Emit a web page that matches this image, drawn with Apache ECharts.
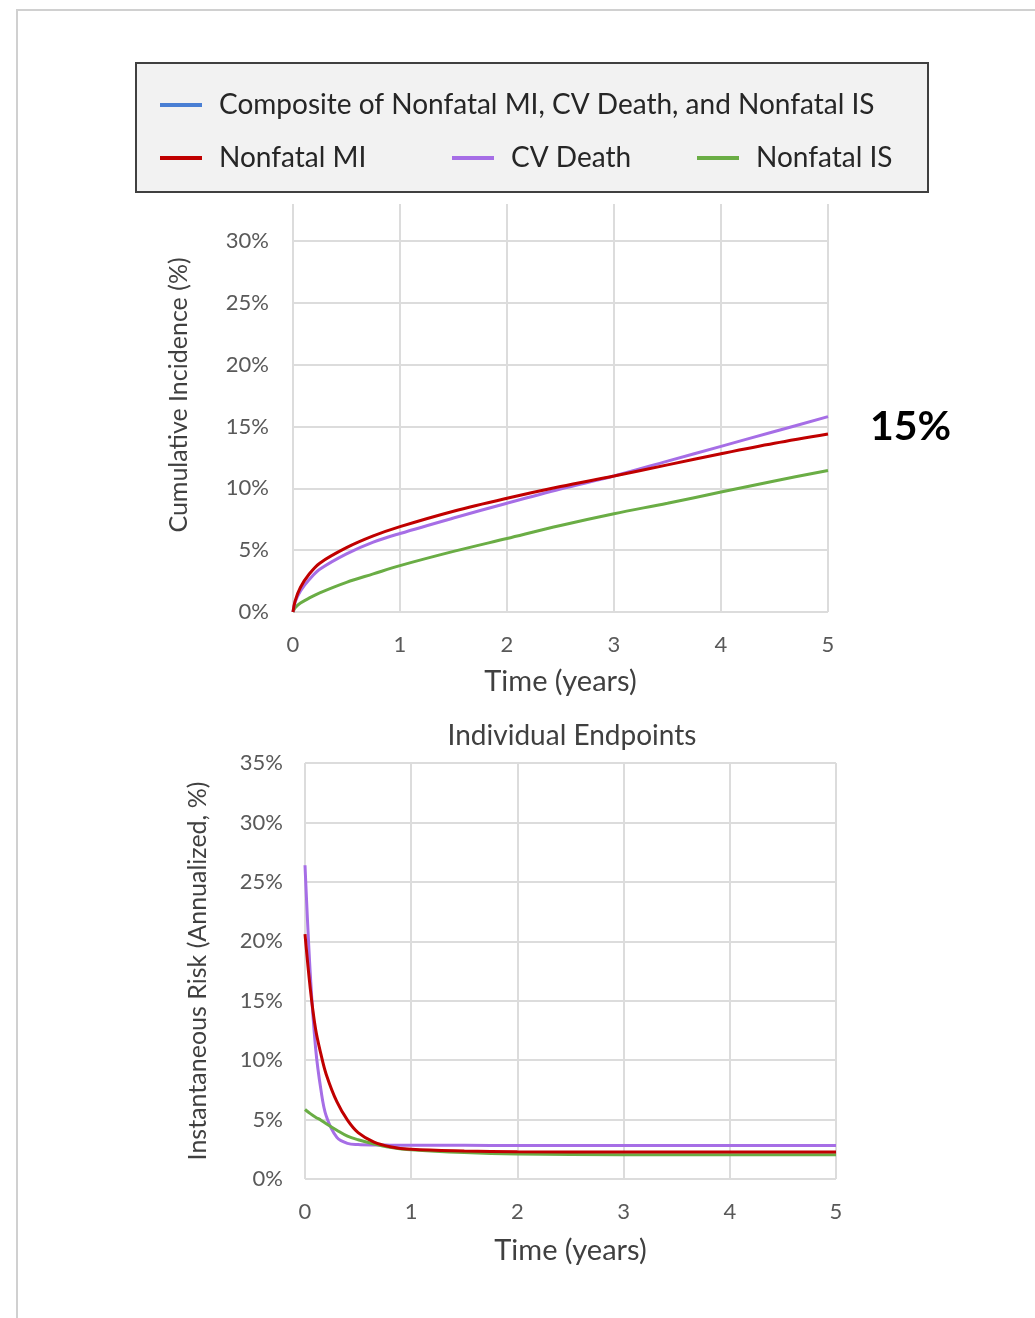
<!DOCTYPE html>
<html>
<head>
<meta charset="utf-8">
<script src="https://cdn.jsdelivr.net/npm/echarts@6/dist/echarts.min.js"></script>
<style>
  html, body { margin: 0; padding: 0; background: #fff; }
  #chartContainer { width: 1035px; height: 1318px; }
</style>
</head>
<body>
<div id="chartContainer"></div>
<script>
// top panel: cumulative incidence (%)
const timesTop = [0, 0.02, 0.07, 0.15, 0.25, 0.5, 0.75, 1, 1.5, 2, 2.5, 3, 3.5, 4, 4.5, 5];
const cumMI = [0, 0.9, 2.0, 3.05, 3.95, 5.2, 6.15, 6.9, 8.15, 9.2, 10.15, 11.0, 11.9, 12.8, 13.65, 14.4];
const cumCVDeath = [0, 0.8, 1.7, 2.6, 3.45, 4.7, 5.65, 6.35, 7.6, 8.8, 9.95, 11.0, 12.2, 13.4, 14.6, 15.8];
const cumIS = [0, 0.35, 0.72, 1.12, 1.55, 2.4, 3.08, 3.75, 4.9, 5.95, 7.0, 7.95, 8.8, 9.7, 10.6, 11.45];

// bottom panel: instantaneous risk (annualized, %)
const timesBottom = [0, 0.05, 0.1, 0.15, 0.2, 0.3, 0.4, 0.5, 0.65, 0.8, 1, 1.5, 2, 3, 4, 5];
const riskMI = [20.6, 16.0, 12.6, 10.5, 8.8, 6.5, 4.95, 3.9, 3.1, 2.72, 2.5, 2.36, 2.3, 2.27, 2.27, 2.27];
const riskCVDeath = [26.4, 17.2, 11.0, 7.5, 5.3, 3.5, 3.0, 2.9, 2.86, 2.85, 2.84, 2.83, 2.82, 2.82, 2.82, 2.82];
const riskIS = [5.85, 5.5, 5.2, 4.95, 4.65, 4.1, 3.6, 3.3, 2.95, 2.68, 2.46, 2.22, 2.1, 2.05, 2.04, 2.04];

const xTicks = [0, 1, 2, 3, 4, 5];
const annotation = '15%';

const names = {
    composite: 'Composite of Nonfatal MI, CV Death, and Nonfatal IS',
    mi: 'Nonfatal MI',
    cv: 'CV Death',
    is: 'Nonfatal IS'
};
const colors = { composite: '#4a7fd4', mi: '#c00000', cv: '#a66ee6', is: '#6aad45' };

const FONT = 'Lato, "Open Sans", sans-serif';
const gridColor = '#dcdcdc';

const chart = echarts.init(document.getElementById('chartContainer'), null, { renderer: 'canvas' });

function pairs(xs, ys) {
    return xs.map((x, i) => [x, ys[i]]);
}

function lineSeries(name, data, idx, color, width) {
    return {
        name, type: 'line', xAxisIndex: idx, yAxisIndex: idx,
        data, smooth: 0.35, symbol: 'none',
        lineStyle: { color, width },
        itemStyle: { color },
        z: 3
    };
}

function xAxisCfg(gridIndex, nameGap) {
    return {
        type: 'value', gridIndex, min: xTicks[0], max: xTicks[xTicks.length - 1], interval: 1,
        name: 'Time (years)', nameLocation: 'middle', nameGap,
        nameTextStyle: { fontFamily: FONT, fontSize: 29, color: '#404040' },
        axisLine: { show: false }, axisTick: { show: false },
        axisLabel: { fontFamily: FONT, fontSize: 22, color: '#595959', margin: 22 },
        splitLine: { show: true, lineStyle: { color: gridColor, width: 2 } }
    };
}

function legendCfg(name, left, top) {
    return {
        data: [name], left, top, padding: 0,
        icon: 'rect', itemWidth: 42, itemHeight: 4,
        textStyle: { fontFamily: FONT, fontSize: 28, color: '#262626', padding: [0, 0, 0, 12], lineHeight: 30 },
        selectedMode: false, z: 10
    };
}

const option = {
    backgroundColor: '#fff',
    animation: false,
    graphic: [
        { type: 'rect', z: 0, shape: { x: 17, y: 10, width: 1100, height: 1400 },
          style: { fill: 'none', stroke: '#d0d0d0', lineWidth: 2 } },
        { type: 'rect', z: 1, shape: { x: 136, y: 63, width: 792, height: 129 },
          style: { fill: '#f2f2f2', stroke: '#404040', lineWidth: 2 } },
        { type: 'text', z: 5, style: { text: annotation, x: 870, y: 427, verticalAlign: 'middle',
          font: 'bold 41px ' + FONT, fill: '#000' } }
    ],
    legend: [
        legendCfg(names.composite, 160, 90),
        legendCfg(names.mi, 160, 143),
        legendCfg(names.cv, 452, 143),
        legendCfg(names.is, 697, 143)
    ],
    title: {
        text: 'Individual Endpoints', left: 567, top: 717, textAlign: 'center',
        textStyle: { fontFamily: FONT, fontSize: 28, fontWeight: 'normal', color: '#404040' }
    },
    grid: [
        { left: 293, right: 207, top: 204, height: 408 },
        { left: 305, right: 199, top: 763, height: 416 }
    ],
    xAxis: [xAxisCfg(0, 55), xAxisCfg(1, 57)],
    yAxis: [
        {
            type: 'value', gridIndex: 0, min: 0, max: 33, interval: 5,
            name: 'Cumulative Incidence (%)', nameLocation: 'middle', nameGap: 102,
            nameTextStyle: { fontFamily: FONT, fontSize: 25, color: '#404040', padding: [0, 0, 0, 26] },
            axisLine: { show: false }, axisTick: { show: false },
            axisLabel: { fontFamily: FONT, fontSize: 22, color: '#595959', margin: 24,
                showMaxLabel: false, formatter: v => (v % 5 === 0 ? v + '%' : '') },
            splitLine: { show: true, showMaxLine: false, lineStyle: { color: gridColor, width: 2 } }
        },
        {
            type: 'value', gridIndex: 1, min: 0, max: 35, interval: 5,
            name: 'Instantaneous Risk (Annualized, %)', nameLocation: 'middle', nameGap: 95,
            nameTextStyle: { fontFamily: FONT, fontSize: 25, color: '#404040' },
            axisLine: { show: false }, axisTick: { show: false },
            axisLabel: { fontFamily: FONT, fontSize: 22, color: '#595959', margin: 22, formatter: '{value}%' },
            splitLine: { show: true, lineStyle: { color: gridColor, width: 2 } }
        }
    ],
    series: [
        { name: names.composite, type: 'line', xAxisIndex: 0, yAxisIndex: 0, data: [],
          symbol: 'none', lineStyle: { color: colors.composite, width: 3 }, itemStyle: { color: colors.composite } },
        lineSeries(names.is, pairs(timesTop, cumIS), 0, colors.is, 3),
        lineSeries(names.cv, pairs(timesTop, cumCVDeath), 0, colors.cv, 3),
        lineSeries(names.mi, pairs(timesTop, cumMI), 0, colors.mi, 3),
        lineSeries(names.cv, pairs(timesBottom, riskCVDeath), 1, colors.cv, 3),
        lineSeries(names.is, pairs(timesBottom, riskIS), 1, colors.is, 3),
        lineSeries(names.mi, pairs(timesBottom, riskMI), 1, colors.mi, 3)
    ]
};

chart.setOption(option);
</script>
</body>
</html>
